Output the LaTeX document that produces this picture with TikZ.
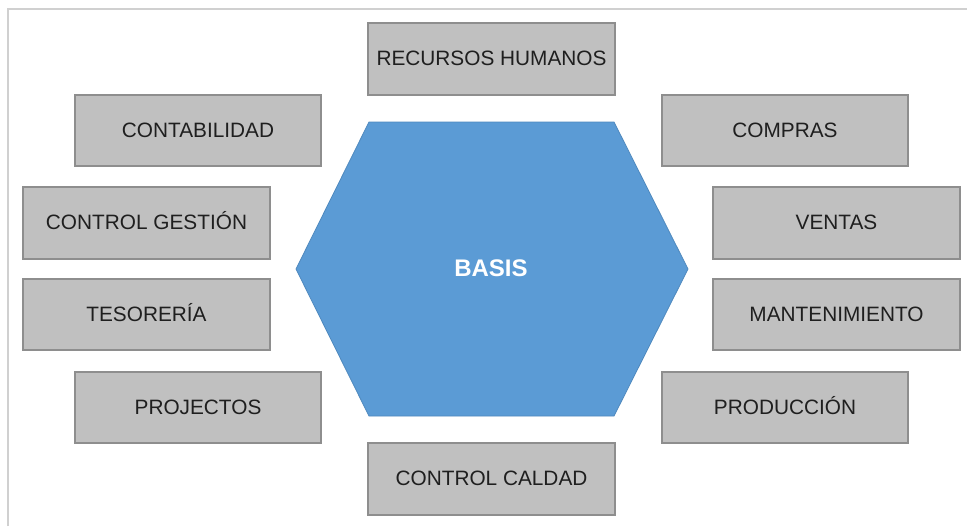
\documentclass[tikz,border=0pt]{standalone}
\usepackage{fontspec}
\setmainfont{Liberation Sans}
\definecolor{boxfill}{HTML}{C0C0C0}
\definecolor{boxline}{HTML}{8E8E8E}
\definecolor{hexfill}{HTML}{5B9BD5}
\definecolor{hexline}{HTML}{4F89BE}
\definecolor{frameline}{HTML}{D0D0D0}
\begin{document}
\begin{tikzpicture}[x=0.75pt,y=-0.75pt,
  dept/.style={draw=boxline,line width=1pt,fill=boxfill},
  depttext/.style={font=\fontsize{15.6}{18}\selectfont,text=black!88,anchor=base,inner sep=0pt},
]
\useasboundingbox[fill=white] (0,0) rectangle (967,526);
\draw[frameline,line width=1.2pt] (8,526) -- (8,9) -- (967,9);
% hexagon
\draw[hexline,line width=0.6pt,fill=hexfill] (369,122) -- (614,122) -- (688,269) -- (614,416) -- (369,416) -- (296,269) -- cycle;
\node[font=\bfseries\fontsize{18}{20}\selectfont,text=white,anchor=base,inner sep=0pt] (basis) at (491,276.5) {BASIS};
% boxes
\newcommand{\deptbox}[6]{%
  \draw[dept] (#1,#2) rectangle (#3,#4);
  \node[depttext] (#6) at ({(#1+#3)/2},{(#2+#4)/2+6.5}) {#5};}
\deptbox{368}{23}{615}{95}{RECURSOS HUMANOS}{rh}
\deptbox{75}{95}{321}{166}{CONTABILIDAD}{cont}
\deptbox{662}{95}{908}{166}{COMPRAS}{comp}
\deptbox{23}{187}{270}{259}{CONTROL GESTIÓN}{cg}
\deptbox{713}{187}{960}{259}{VENTAS}{vent}
\deptbox{23}{279}{270}{350}{TESORERÍA}{tes}
\deptbox{713}{279}{960}{350}{MANTENIMIENTO}{mant}
\deptbox{75}{372}{321}{443}{PROJECTOS}{proj}
\deptbox{662}{372}{908}{443}{PRODUCCIÓN}{prod}
\deptbox{368}{443}{615}{515}{CONTROL CALDAD}{cc}
\end{tikzpicture}
\end{document}
